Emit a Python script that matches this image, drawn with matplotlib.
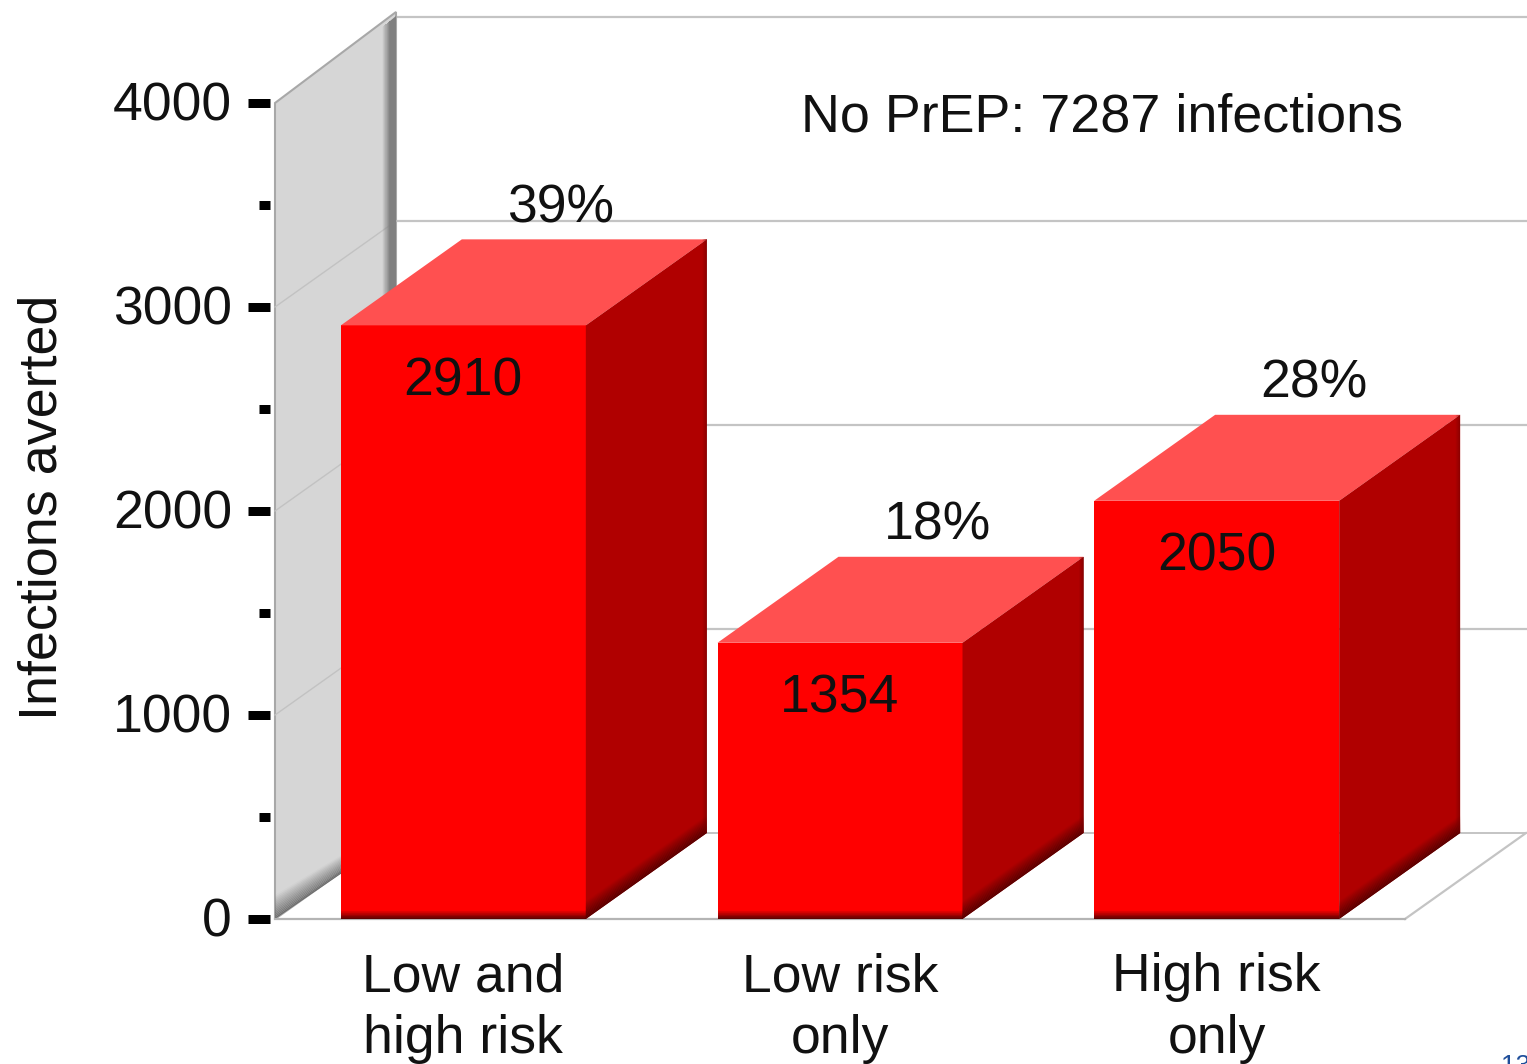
import numpy as np
import matplotlib
matplotlib.use('Agg')
import matplotlib.pyplot as plt
from matplotlib.patches import Polygon
from matplotlib.transforms import ScaledTranslation

# values
categories = ['Low and\nhigh risk', 'Low risk\nonly', 'High risk\nonly']
infections_averted = [2910, 1354, 2050]
percent_labels = ['39%', '18%', '28%']
major_ticks = [0, 1000, 2000, 3000, 4000]
minor_ticks = [500, 1500, 2500, 3500]
no_prep_note = 'No PrEP: 7287 infections'
ylabel = 'Infections averted'
page_number = '13'

plt.rcParams['font.family'] = ['Liberation Sans', 'DejaVu Sans']

W, H = 1527, 1064
PX_X = 3 / 1130      # data units per pixel, x
PX_Y = 4000 / 816    # data units per pixel, y
DX = 121 * PX_X      # depth of the fake 3D box
DY = 86 * PX_Y
BAR_W = 245 * PX_X
FS = 38.5
TXT = '#111111'
GRID = '#c4c4c4'


def pts(px):
    return px * 0.72


def fade(ax, a0, a1, b0, b1, rgb, alpha=1.0, n=14, z=3):
    # shaded strip: full colour on edge a0-a1, gone at edge b0-b1
    a0, a1, b0, b1 = map(np.array, (a0, a1, b0, b1))
    for i in range(n):
        t0, t1 = i / n, (i + 1) / n
        c = (*rgb, alpha * (1 - (i + 0.5) / n))
        ax.add_patch(Polygon([a0 + (b0 - a0) * t0, a1 + (b1 - a1) * t0,
                              a1 + (b1 - a1) * t1, a0 + (b0 - a0) * t1],
                             fc=c, lw=0, clip_on=False, zorder=z))


fig = plt.figure(figsize=(W / 100, H / 100), dpi=100, facecolor='white')
ax = fig.add_axes([275 / W, (H - 919) / H, 1130 / W, 816 / H])
ax.set_xlim(-0.5, 2.5)
ax.set_ylim(0, 4000)
ax.patch.set_alpha(0)

# --- back wall, side wall and floor ---
x0, x1 = -0.5, 2.5
for v in major_ticks[1:]:
    ax.plot([x0 + DX, x1 + DX], [v + DY, v + DY], color=GRID, lw=1.6, clip_on=False, zorder=1)
ax.plot([x0 + DX, x1 + DX], [DY, DY], color=GRID, lw=1.4, clip_on=False, zorder=1)
ax.plot([x1, x1 + DX], [0, DY], color=GRID, lw=1.6, clip_on=False, zorder=1)

wall = [(x0, 0), (x0, 4000), (x0 + DX, 4000 + DY + 5 * PX_Y), (x0 + DX, DY)]
ax.add_patch(Polygon(wall, fc='#d6d6d6', ec='#a8a8a8', lw=1.5, clip_on=False, zorder=1.5))
for v in major_ticks[1:-1]:
    ax.plot([x0, x0 + DX], [v, v + DY], color='#c2c2c2', lw=1, clip_on=False, zorder=1.6)

# dark bands on the wall edges
ax.add_patch(Polygon([(x0 + DX, 4005 + DY), (x0 + DX, 2780),
                      (x0 + DX - 6 * PX_X, 2780), (x0 + DX - 6 * PX_X, 4000 + DY - 4 * PX_Y)],
                     fc='#808080', lw=0, clip_on=False, zorder=1.7))
fade(ax, (x0 + DX - 6 * PX_X, 4000 + DY - 4 * PX_Y), (x0 + DX - 6 * PX_X, 2780),
     (x0 + DX - 14 * PX_X, 4000 + DY - 10 * PX_Y), (x0 + DX - 14 * PX_X, 2780),
     (0.5, 0.5, 0.5), z=1.7)
fade(ax, (x0, 0), (x0 + 70 * PX_X, 48 * PX_Y), (x0, 24 * PX_Y), (x0 + 70 * PX_X, 66 * PX_Y),
     (0.42, 0.42, 0.42), z=1.7)

# --- bars ---
xpos = np.arange(len(categories))
ax.bar(xpos, infections_averted, width=BAR_W, color='#ff0000', lw=0, zorder=3)

for x, v, pct in zip(xpos, infections_averted, percent_labels):
    l, r = x - BAR_W / 2, x + BAR_W / 2
    ax.add_patch(Polygon([(l, v), (r, v), (r + DX, v + DY), (l + DX, v + DY)],
                         fc='#ff5050', lw=0, clip_on=False, zorder=3))
    ax.add_patch(Polygon([(r, 0), (r, v), (r + DX, v + DY), (r + DX, DY)],
                         fc='#b00000', lw=0, clip_on=False, zorder=3))
    # darker bottom edges
    fade(ax, (l, 0), (r, 0), (l, 9 * PX_Y), (r, 9 * PX_Y), (0.35, 0, 0), z=3.1)
    fade(ax, (r, 0), (r + DX, DY), (r, 18 * PX_Y), (r + DX, DY + 18 * PX_Y), (0.3, 0, 0), z=3.1)
    fade(ax, (r + DX, DY), (r + DX, v + DY), (r + DX - 5 * PX_X, DY), (r + DX - 5 * PX_X, v + DY),
         (0.45, 0, 0), alpha=0.6, z=3.1)

    ax.annotate(f'{v}', (x, v), xytext=(0, pts(-56)), textcoords='offset points',
                ha='center', va='center', fontsize=FS, color=TXT, zorder=5)
    ax.annotate(pct, (x, v), xytext=(pts(97), pts(117)), textcoords='offset points',
                ha='center', va='center', fontsize=FS, color=TXT, zorder=5)

# --- axes ---
for s in ax.spines.values():
    s.set_visible(False)
ax.spines['left'].set_position(('outward', pts(5)))
ax.set_yticks(major_ticks)
ax.set_yticks(minor_ticks, minor=True)
ax.tick_params(axis='y', which='major', length=pts(22), width=pts(9), color='black',
               labelsize=FS, labelcolor=TXT, pad=pts(16))
ax.tick_params(axis='y', which='minor', length=pts(11), width=pts(9), color='black')
for lab in ax.get_yticklabels():
    lab.set_transform(lab.get_transform() + ScaledTranslation(0, 2 / 100, fig.dpi_scale_trans))
ax.set_xticks(xpos)
ax.set_xticklabels(categories, fontsize=FS, color=TXT, linespacing=1.3)
ax.tick_params(axis='x', length=0, pad=pts(33))

ax.plot([x0, x1], [0, 0], color='#b4b4b4', lw=1.6, clip_on=False, zorder=2)

fig.text(42.5 / W, 1 - 507 / H, ylabel, rotation=90, ha='center', va='center', fontsize=38.8, color=TXT)
fig.text(1102 / W, 1 - 118 / H, no_prep_note, ha='center', va='center', fontsize=38.8, color=TXT)
fig.text(1501 / W, 1 - 1073 / H, page_number, ha='left', va='baseline', fontsize=19, color='#1f4e9a')

fig.savefig('out.png', dpi=100)
